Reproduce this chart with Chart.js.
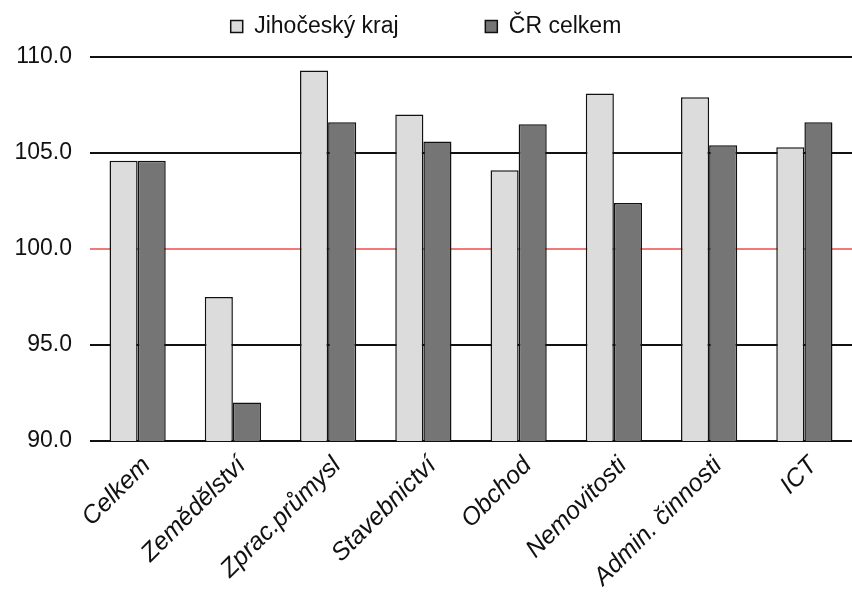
<!DOCTYPE html>
<html lang="cs">
<head>
  <meta charset="UTF-8">
  <title>Jihočeský kraj vs ČR</title>
  <script src="https://cdn.jsdelivr.net/npm/chart.js"></script>
  <style>
    body {
      margin: 0;
      background: #fff;
    }
    #wrap {
      width: 852px;
      height: 606px;
    }
  </style>
</head>
<body>
  <div id="wrap">
    <canvas id="chart" width="852" height="606"></canvas>
  </div>

  <script>
    const categories = ['Celkem', 'Zemědělství', 'Zprac.průmysl', 'Stavebnictví', 'Obchod', 'Nemovitosti', 'Admin. činnosti', 'ICT'];
    const jihocesky = [104.6, 97.5, 109.3, 107.0, 104.1, 108.1, 107.9, 105.3];
    const crCelkem = [104.6, 92.0, 106.6, 105.6, 106.5, 102.4, 105.4, 106.6];
    const yTicks = [90, 95, 100, 105, 110];

    const FONT = "'Liberation Sans', Arial, sans-serif";

    // a bit more room between legend and plot
    const legendGap = {
      id: 'legendGap',
      beforeInit(chart) {
        const fit = chart.legend.fit;
        chart.legend.fit = function () {
          fit.bind(chart.legend)();
          this.height += 9;
        };
      }
    };

    new Chart(document.getElementById('chart').getContext('2d'), {
      type: 'bar',
      data: {
        labels: categories,
        datasets: [
          {
            label: 'Jihočeský kraj',
            data: jihocesky,
            backgroundColor: '#dcdcdc',
            borderColor: '#111',
            borderWidth: 1.5,
            borderSkipped: 'bottom'
          },
          {
            label: 'ČR celkem',
            data: crCelkem,
            backgroundColor: '#757575',
            borderColor: '#111',
            borderWidth: 1.5,
            borderSkipped: 'bottom'
          }
        ]
      },
      options: {
        responsive: false,
        animation: false,
        layout: {
          padding: { top: 5, right: 0, left: 0, bottom: 0 }
        },
        datasets: {
          bar: {
            categoryPercentage: 0.59,
            barPercentage: 1.0
          }
        },
        plugins: {
          legend: {
            position: 'top',
            labels: {
              font: { family: FONT, size: 23 },
              color: '#111',
              boxWidth: 12,
              boxHeight: 12,
              padding: 10,
              // wider gap after the first item, like the original
              generateLabels: chart => {
                const items = Chart.defaults.plugins.legend.labels.generateLabels(chart);
                items[0].text = items[0].text + '            ';
                return items;
              }
            }
          },
          tooltip: { enabled: false }
        },
        scales: {
          x: {
            grid: { display: false },
            border: { display: false },
            ticks: {
              font: { family: FONT, size: 25, style: 'italic' },
              color: '#111',
              minRotation: 45,
              maxRotation: 45,
              padding: 2,
              labelOffset: 9
            },
            afterFit: scale => { scale.height = 165; }
          },
          y: {
            min: 90,
            max: 110,
            afterBuildTicks: scale => {
              scale.ticks = yTicks.map(v => ({ value: v }));
            },
            grid: {
              color: ctx => ctx.tick && ctx.tick.value === 100 ? '#f07a7a' : '#111',
              lineWidth: 2,
              drawTicks: false
            },
            border: { display: false },
            ticks: {
              font: { family: FONT, size: 23 },
              color: '#111',
              padding: 18,
              callback: v => v.toFixed(1)
            },
            afterFit: scale => { scale.width = 90; }
          }
        }
      },
      plugins: [legendGap]
    });
  </script>
</body>
</html>
